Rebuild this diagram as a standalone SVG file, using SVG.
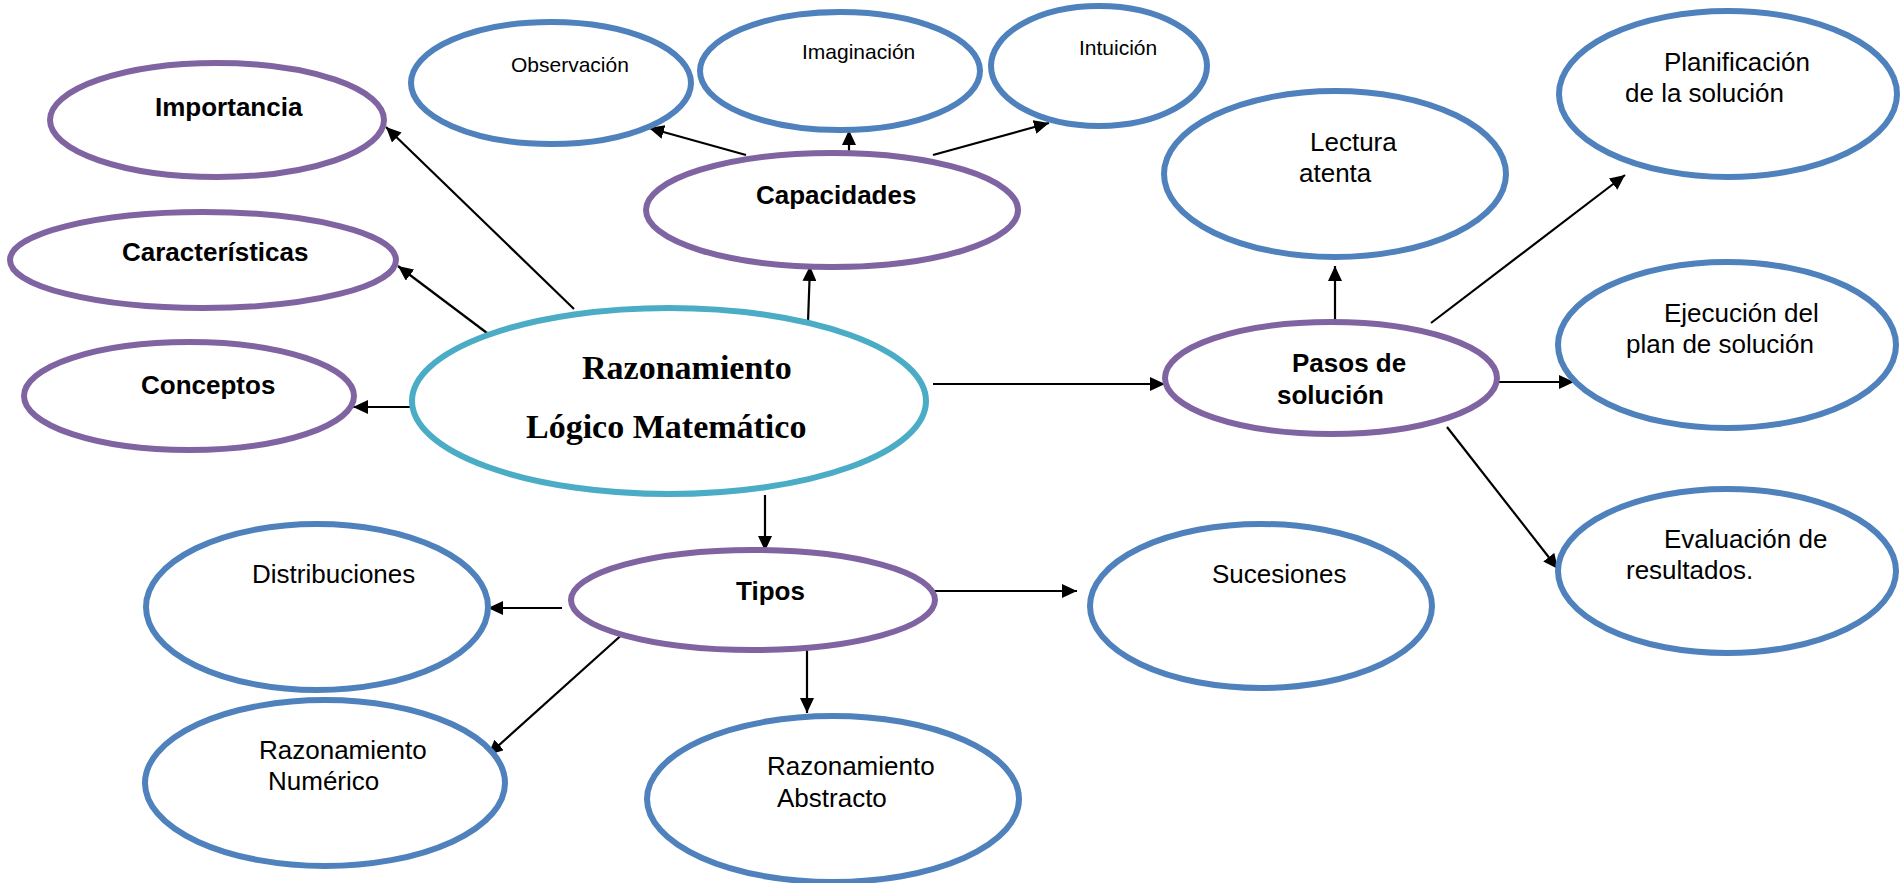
<svg xmlns="http://www.w3.org/2000/svg" width="1900" height="883" viewBox="0 0 1900 883">
<style>
.p{fill:#fff;stroke:#8064A2;stroke-width:6}
.b{fill:#fff;stroke:#4F81BD;stroke-width:6}
.m{fill:#fff;stroke:#4BACC6;stroke-width:6}
.tb{font-family:"Liberation Sans",Arial,sans-serif;font-weight:bold;font-size:26px;fill:#000}
.tr{font-family:"Liberation Sans",Arial,sans-serif;font-size:26px;fill:#000}
.ts{font-family:"Liberation Sans",Arial,sans-serif;font-size:21px;fill:#000}
.tm{font-family:"Liberation Serif","Times New Roman",serif;font-weight:bold;font-size:34px;fill:#000}
.c line{stroke:#000;stroke-width:2.2;marker-end:url(#ah)}
</style>
<defs>
<marker id="ah" markerUnits="userSpaceOnUse" markerWidth="16" markerHeight="14" refX="15" refY="7" orient="auto">
<path d="M0,0 L15,7 L0,14 z" fill="#000"/>
</marker>
</defs>
<rect width="1900" height="883" fill="#fff"/>
<g class="c" id="connectors">
<line x1="574" y1="309" x2="386" y2="127"/>
<line x1="487" y1="333" x2="398" y2="266"/>
<line x1="412" y1="407" x2="353" y2="407"/>
<line x1="808" y1="322" x2="810" y2="266"/>
<line x1="746" y1="155" x2="649" y2="128"/>
<line x1="849" y1="155" x2="849" y2="130"/>
<line x1="933" y1="155" x2="1049" y2="123"/>
<line x1="933" y1="384" x2="1165" y2="384"/>
<line x1="1335" y1="322" x2="1335" y2="266"/>
<line x1="1431" y1="323" x2="1625" y2="175"/>
<line x1="1497" y1="382" x2="1574" y2="382"/>
<line x1="1447" y1="427" x2="1558" y2="569"/>
<line x1="765" y1="495" x2="765" y2="551"/>
<line x1="562" y1="608" x2="488" y2="608"/>
<line x1="626" y1="631" x2="488" y2="755"/>
<line x1="807" y1="649" x2="807" y2="713"/>
<line x1="924" y1="591" x2="1077" y2="591"/>
</g>
<g id="importancia"><ellipse class="p" cx="217" cy="120" rx="167" ry="57"/><text class="tb" x="155" y="116">Importancia</text></g>
<g id="caracteristicas"><ellipse class="p" cx="203" cy="260" rx="193" ry="48"/><text class="tb" x="122" y="261">Características</text></g>
<g id="conceptos"><ellipse class="p" cx="189" cy="396" rx="165" ry="54"/><text class="tb" x="141" y="394">Conceptos</text></g>
<g id="capacidades"><ellipse class="p" cx="832" cy="210" rx="186" ry="57"/><text class="tb" x="756" y="204">Capacidades</text></g>
<g id="observacion"><ellipse class="b" cx="551" cy="83" rx="140" ry="61"/><text class="ts" x="511" y="72">Observación</text></g>
<g id="imaginacion"><ellipse class="b" cx="840" cy="71" rx="140" ry="59"/><text class="ts" x="802" y="59">Imaginación</text></g>
<g id="intuicion"><ellipse class="b" cx="1099" cy="66" rx="108" ry="60"/><text class="ts" x="1079" y="55">Intuición</text></g>
<g id="razonamiento"><ellipse class="m" cx="669" cy="401" rx="257" ry="93"/><text class="tm" x="582" y="379">Razonamiento</text><text class="tm" x="526" y="438">Lógico Matemático</text></g>
<g id="pasos"><ellipse class="p" cx="1331" cy="378" rx="166" ry="56"/><text class="tb" x="1292" y="372">Pasos de</text><text class="tb" x="1277" y="404">solución</text></g>
<g id="lectura"><ellipse class="b" cx="1335" cy="174" rx="171" ry="83"/><text class="tr" x="1310" y="151">Lectura</text><text class="tr" x="1299" y="182">atenta</text></g>
<g id="planificacion"><ellipse class="b" cx="1728" cy="94" rx="169" ry="83"/><text class="tr" x="1664" y="71">Planificación</text><text class="tr" x="1625" y="102">de la solución</text></g>
<g id="ejecucion"><ellipse class="b" cx="1727" cy="345" rx="169" ry="83"/><text class="tr" x="1664" y="322">Ejecución del</text><text class="tr" x="1626" y="353">plan de solución</text></g>
<g id="evaluacion"><ellipse class="b" cx="1727" cy="571" rx="169" ry="82"/><text class="tr" x="1664" y="548">Evaluación de</text><text class="tr" x="1626" y="579">resultados.</text></g>
<g id="tipos"><ellipse class="p" cx="753" cy="600" rx="182" ry="50"/><text class="tb" x="736" y="600">Tipos</text></g>
<g id="sucesiones"><ellipse class="b" cx="1261" cy="606" rx="171" ry="82"/><text class="tr" x="1212" y="583">Sucesiones</text></g>
<g id="distribuciones"><ellipse class="b" cx="317" cy="607" rx="171" ry="83"/><text class="tr" x="252" y="583">Distribuciones</text></g>
<g id="numerico"><ellipse class="b" cx="325" cy="783" rx="180" ry="83"/><text class="tr" x="259" y="759">Razonamiento</text><text class="tr" x="268" y="790">Numérico</text></g>
<g id="abstracto"><ellipse class="b" cx="833" cy="799" rx="186" ry="83"/><text class="tr" x="767" y="775">Razonamiento</text><text class="tr" x="777" y="807">Abstracto</text></g>
</svg>
